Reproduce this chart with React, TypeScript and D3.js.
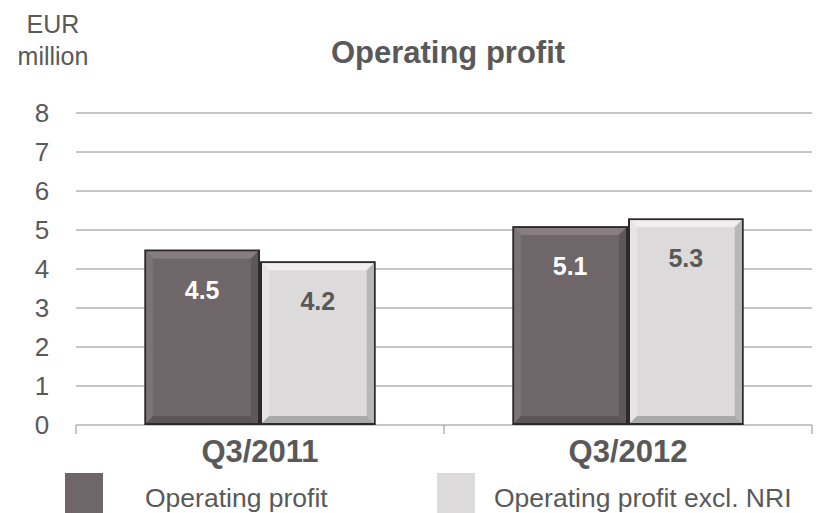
import React, { useEffect, useRef } from "react";
import * as d3 from "d3";

const categories = ["Q3/2011", "Q3/2012"];
const seriesNames = ["Operating profit", "Operating profit excl. NRI"];
const operatingProfit = [4.5, 5.1];
const operatingProfitExclNri = [4.2, 5.3];
const yTicks = [0, 1, 2, 3, 4, 5, 6, 7, 8];

const seriesColors = ["#6e6668", "#dcdadb"];
const labelColors = ["#ffffff", "#595959"];
const textColor = "#595959";

const App = () => {
  const svgRef = useRef<SVGSVGElement>(null);

  useEffect(() => {
    const svg = d3.select(svgRef.current);
    svg.selectAll("*").remove();

    const width = 817;
    const height = 513;
    const margin = { left: 76, right: 5, top: 113, bottom: 88 };
    const font = "'Liberation Sans', Arial, sans-serif";

    const x = d3
      .scaleBand()
      .domain(categories)
      .range([margin.left, width - margin.right]);

    const inner = d3
      .scaleBand()
      .domain(seriesNames)
      .range([0, x.bandwidth()])
      .paddingOuter(0.59)
      .paddingInner(0);

    const y = d3
      .scaleLinear()
      .domain([0, 8])
      .range([height - margin.bottom, margin.top]);

    // gridlines
    svg
      .append("g")
      .selectAll("line")
      .data(yTicks.filter((t) => t > 0))
      .join("line")
      .attr("x1", margin.left)
      .attr("x2", width - margin.right)
      .attr("y1", (d) => y(d))
      .attr("y2", (d) => y(d))
      .attr("stroke", "#8c8c8c")
      .attr("stroke-width", 1);

    // y labels
    svg
      .append("g")
      .selectAll("text")
      .data(yTicks)
      .join("text")
      .attr("x", 42)
      .attr("y", (d) => y(d))
      .attr("dy", "0.36em")
      .attr("text-anchor", "middle")
      .attr("font-family", font)
      .attr("font-size", 26)
      .attr("fill", textColor)
      .text((d) => d);

    // x axis line + ticks
    const axisY = y(0);
    svg
      .append("line")
      .attr("x1", margin.left)
      .attr("x2", width - margin.right)
      .attr("y1", axisY)
      .attr("y2", axisY)
      .attr("stroke", "#8c8c8c");
    const tickXs = [...categories.map((c) => x(c)!), x(categories[1])! + x.bandwidth()];
    svg
      .append("g")
      .selectAll("line")
      .data(tickXs)
      .join("line")
      .attr("x1", (d) => d)
      .attr("x2", (d) => d)
      .attr("y1", axisY)
      .attr("y2", axisY + 9)
      .attr("stroke", "#8c8c8c");

    // bars with bevel
    const series = [operatingProfit, operatingProfitExclNri];
    const bevel = 7;
    categories.forEach((cat, ci) => {
      series.forEach((vals, si) => {
        const x0 = x(cat)! + inner(seriesNames[si])!;
        const w = inner.bandwidth();
        const y0 = y(vals[ci]);
        const h = axisY - y0;
        const g = svg.append("g");
        g.append("rect")
          .attr("x", x0)
          .attr("y", y0)
          .attr("width", w)
          .attr("height", h)
          .attr("fill", "#2e2a2b");
        const ix = x0 + 2;
        const iy = y0 + 2;
        const iw = w - 4;
        const ih = h - 4;
        const base = d3.color(seriesColors[si])!;
        g.append("rect")
          .attr("x", ix)
          .attr("y", iy)
          .attr("width", iw)
          .attr("height", ih)
          .attr("fill", seriesColors[si]);
        const p = (pts: [number, number][]) => "M" + pts.map((q) => q.join(",")).join("L") + "Z";
        const b = bevel;
        const faces: [string, string][] = [
          [p([[ix, iy], [ix + iw, iy], [ix + iw - b, iy + b], [ix + b, iy + b]]), base.brighter(si ? 0.25 : 0.6).formatHex()],
          [p([[ix, iy], [ix + b, iy + b], [ix + b, iy + ih - b], [ix, iy + ih]]), base.brighter(si ? 0.12 : 0.3).formatHex()],
          [p([[ix + iw, iy], [ix + iw, iy + ih], [ix + iw - b, iy + ih - b], [ix + iw - b, iy + b]]), base.darker(si ? 0.5 : 0.4).formatHex()],
          [p([[ix, iy + ih], [ix + b, iy + ih - b], [ix + iw - b, iy + ih - b], [ix + iw, iy + ih]]), base.darker(si ? 0.7 : 0.5).formatHex()],
        ];
        faces.forEach(([d, fill]) => g.append("path").attr("d", d).attr("fill", fill));

        g.append("text")
          .attr("x", x0 + w / 2)
          .attr("y", y0 + 49)
          .attr("text-anchor", "middle")
          .attr("font-family", font)
          .attr("font-weight", "bold")
          .attr("font-size", 25)
          .attr("fill", labelColors[si])
          .text(vals[ci].toFixed(1));
      });
    });

    // category labels
    svg
      .append("g")
      .selectAll("text")
      .data(categories)
      .join("text")
      .attr("x", (d) => x(d)! + x.bandwidth() / 2)
      .attr("y", 462)
      .attr("text-anchor", "middle")
      .attr("font-family", font)
      .attr("font-weight", "bold")
      .attr("font-size", 31)
      .attr("fill", textColor)
      .text((d) => d);

    // title and unit
    svg
      .append("text")
      .attr("x", 448)
      .attr("y", 63)
      .attr("text-anchor", "middle")
      .attr("font-family", font)
      .attr("font-weight", "bold")
      .attr("font-size", 31)
      .attr("fill", textColor)
      .text("Operating profit");
    ["EUR", "million"].forEach((t, i) => {
      svg
        .append("text")
        .attr("x", 53)
        .attr("y", 33 + i * 32)
        .attr("text-anchor", "middle")
        .attr("font-family", font)
        .attr("font-size", 25)
        .attr("fill", textColor)
        .text(t);
    });

    // legend
    const legendX = [65, 437];
    const legendTextX = [145, 494];
    seriesNames.forEach((name, i) => {
      svg
        .append("rect")
        .attr("x", legendX[i])
        .attr("y", 473)
        .attr("width", 38)
        .attr("height", 40)
        .attr("fill", seriesColors[i]);
      svg
        .append("text")
        .attr("x", legendTextX[i])
        .attr("y", 507)
        .attr("font-family", font)
        .attr("font-size", 26.5)
        .attr("fill", textColor)
        .text(name);
    });
  }, []);

  return (
    <svg
      ref={svgRef}
      width={817}
      height={513}
      style={{ position: "absolute", left: 0, top: 0, background: "#fff" }}
    />
  );
};

export default App;
